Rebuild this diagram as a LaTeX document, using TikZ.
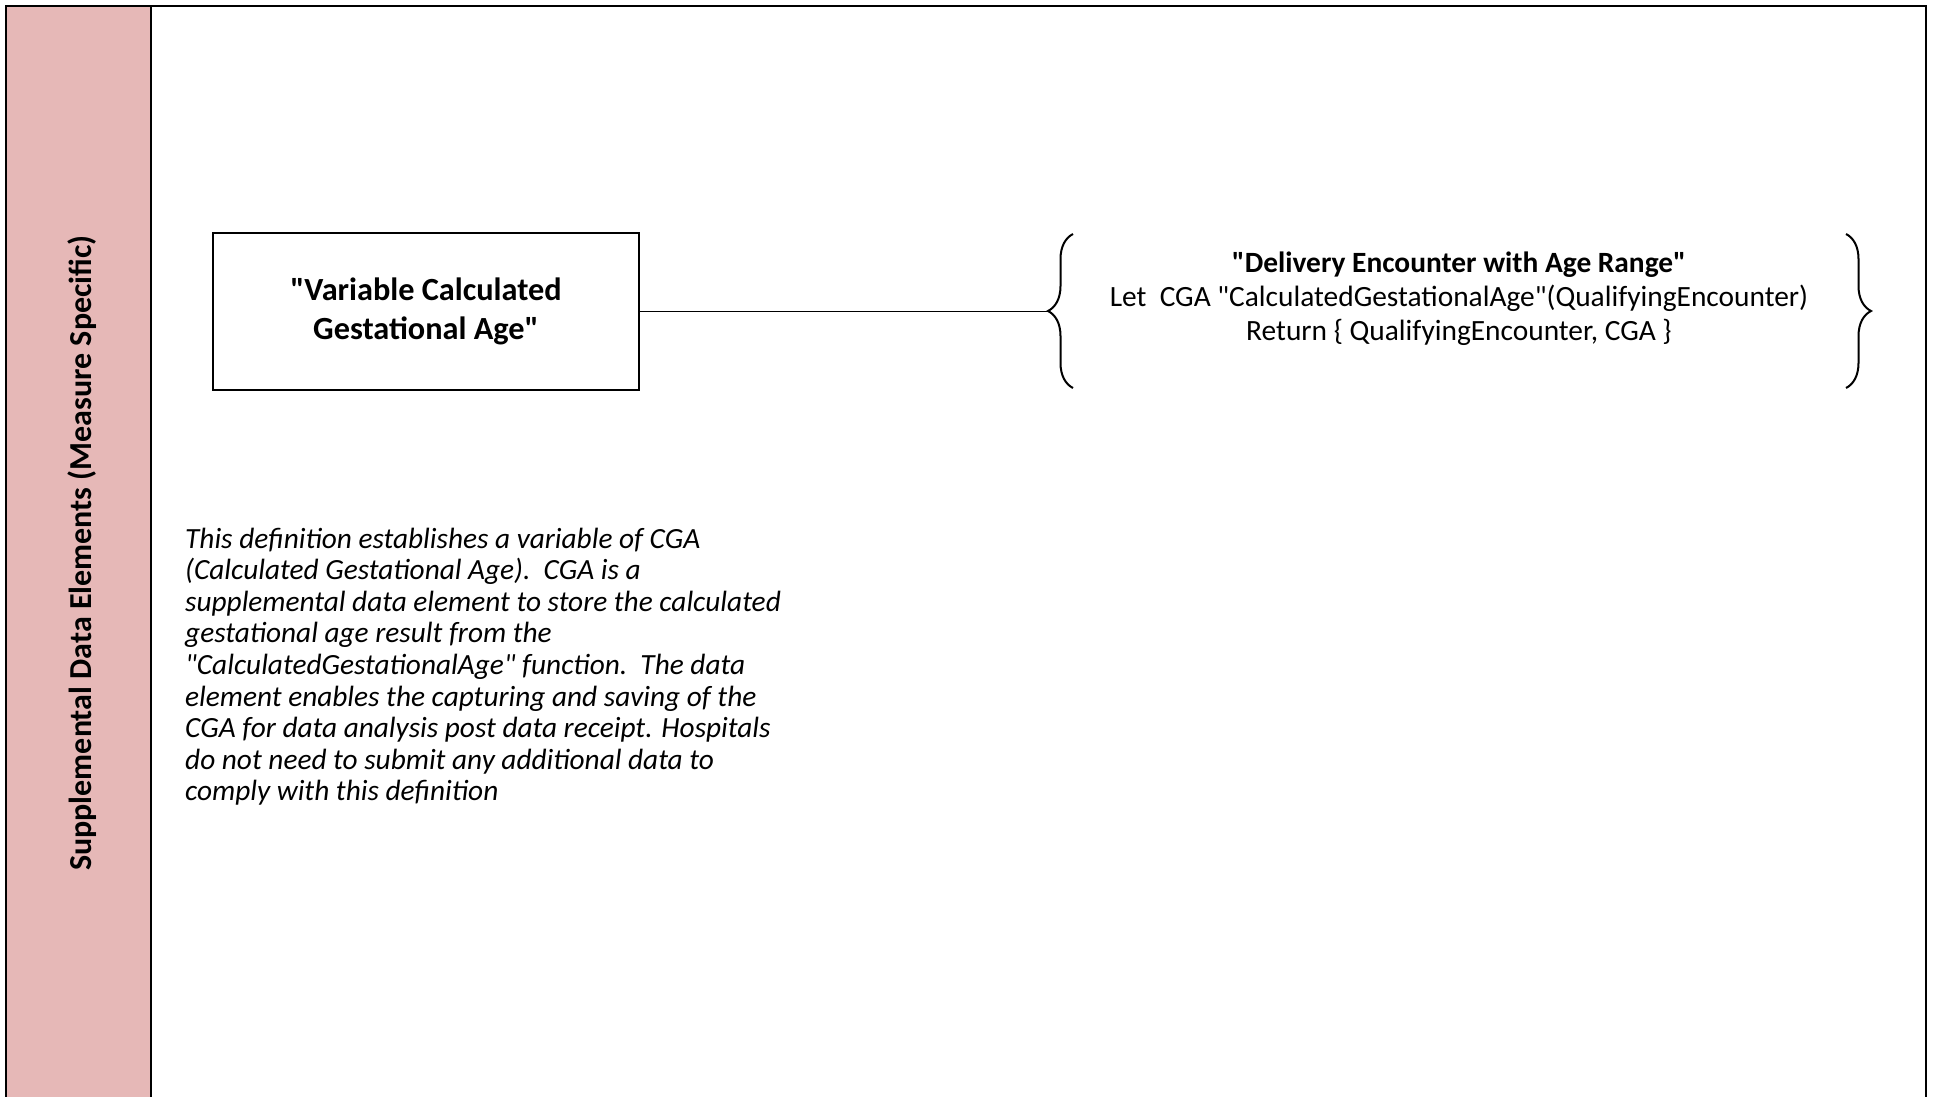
\documentclass[tikz,border=0pt]{standalone}
\usepackage{fontspec}
\setmainfont{Carlito}[Ligatures=TeXOff]
\usetikzlibrary{decorations.pathreplacing}
\definecolor{lanepink}{HTML}{E6B8B7}
\tikzset{
  frame/.style={line width=2pt, draw=black},
  procbox/.style={draw=black, line width=2pt, minimum width=426pt, minimum height=157pt, align=center, inner sep=0pt,
    font=\bfseries\fontsize{32.3}{39.5}\selectfont},
  bracepath/.style={line width=2pt, decorate, decoration={brace, amplitude=25pt}},
  connector/.style={line width=1.6pt},
  deftext/.style={align=center, inner sep=0pt, font=\fontsize{29.4}{34}\selectfont},
  notetext/.style={align=left, inner sep=0pt, anchor=north west, font=\itshape\fontsize{29.3}{31.6}\selectfont},
  lanetext/.style={rotate=90, inner sep=0pt, font=\bfseries\fontsize{32}{34}\selectfont}
}
\begin{document}
\begin{tikzpicture}[x=1pt,y=-1pt]
\useasboundingbox (0,0) rectangle (1935,1097);
\fill[white] (0,0) rectangle (1935,1097);
\fill[lanepink] (6,6) rectangle (151,1097);
\draw[frame] (6,1097) -- (6,6) -- (1926,6) -- (1926,1097);
\draw[frame] (151,6) -- (151,1097);
\node[lanetext] (lane) at (82.5,553) {Supplemental Data Elements (Measure Specific)};
\node[procbox] (var) at (426,311.5) {"Variable Calculated\\Gestational Age"};
\coordinate (lbtop) at (1073,234);
\coordinate (lbbot) at (1073,388);
\coordinate (ltip) at (1048,311.5);
\coordinate (rbtop) at (1846,234);
\coordinate (rbbot) at (1846,388);
\draw[bracepath] (lbbot) -- (lbtop);
\draw[bracepath] (rbtop) -- (rbbot);
\draw[connector] (var.east) -- (ltip);
\node[deftext] (def) at (1459,298.5) {\textbf{"Delivery Encounter with Age Range"}\\Let~~CGA "CalculatedGestationalAge"(QualifyingEncounter)\\Return \{ QualifyingEncounter, CGA \}};
\node[notetext] (note) at (185,527.5) {This definition establishes a variable of CGA\\
(Calculated Gestational Age).~~CGA is a\\
supplemental data element to store the calculated\\
gestational age result from the\\
"CalculatedGestationalAge" function.~~The data\\
element enables the capturing and saving of the\\
CGA for data analysis post data receipt. Hospitals\\
do not need to submit any additional data to\\
comply with this definition};
\end{tikzpicture}
\end{document}
